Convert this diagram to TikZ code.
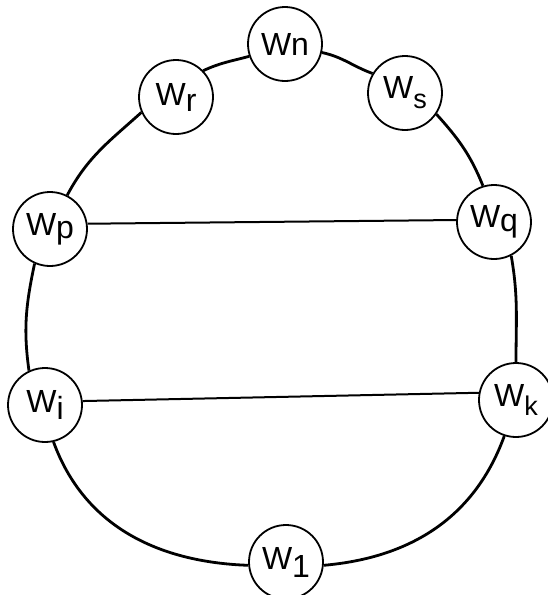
\documentclass[tikz,border=0pt]{standalone}
\usepackage{fontspec}
\setmainfont{Liberation Sans}
\newcommand{\wlab}[2]{W\raisebox{#2}{#1}}
\begin{document}
\begin{tikzpicture}[x=1pt,y=-1pt,
  wnode/.style={circle,draw,line width=1.8pt,minimum size=74pt,inner sep=0pt,
    font=\fontsize{32}{32}\selectfont,fill=white},
  ring/.style={line width=2.8pt},
  chord/.style={line width=2pt}]
\useasboundingbox (0,0) rectangle (547,595);
\node[wnode] (Wn) at (285,44) {Wn};
\node[wnode] (Wr) at (176,97) {\wlab{r}{-6pt}};
\node[wnode] (Ws) at (405,93) {\wlab{\fontsize{27}{27}\selectfont s}{-10pt}};
\node[wnode] (Wp) at (50,229) {\wlab{p}{-3pt}};
\node[wnode] (Wq) at (494,222) {\wlab{q}{-4pt}};
\node[wnode] (Wi) at (45,405) {\wlab{i}{-7pt}};
\node[wnode] (Wk) at (516,400) {\wlab{\fontsize{27}{27}\selectfont k}{-9pt}};
\node[wnode] (W1) at (286,562) {\wlab{1}{-8pt}};
% outer loop
\draw[ring] (Wn.199) to[out=195,in=25] (Wr.44);
\draw[ring] (Wr.204) to[out=222,in=62] (Wp.63);
\draw[ring] (Wp.246) to[out=258,in=98] (Wi.115);
\draw[ring] (Wi.283) to[out=290,in=178] (W1.185);
\draw[ring] (W1.355) to[out=5,in=250] (Wk.252);
\draw[ring] (Wk.90) to[out=90,in=280] (Wq.297);
\draw[ring] (Wq.107) to[out=112,in=312] (Ws.326);
\draw[ring] (Ws.149) to[out=160,in=348] (Wn.347);
% chords
\draw[chord] (Wp.8) -- (Wq.177);
\draw[chord] (Wi.6) -- (Wk.169);
\end{tikzpicture}
\end{document}
